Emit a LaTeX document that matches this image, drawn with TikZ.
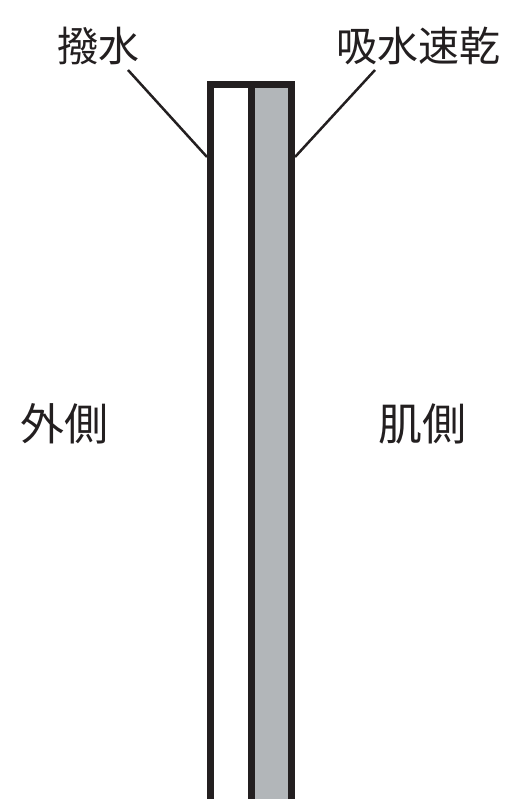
\documentclass[tikz,border=0pt]{standalone}
\usepackage{fontspec}
\newfontfamily\cjk{Noto Sans CJK JP}
\definecolor{ink}{RGB}{35,31,32}
\definecolor{layergray}{RGB}{178,182,185}
\begin{document}
\begin{tikzpicture}[x=1pt,y=-1pt,
  lbl/.style={font=\cjk\fontsize{41}{41}\selectfont, text=ink, inner sep=0pt},
  biglbl/.style={lbl, font=\cjk\fontsize{44}{44}\selectfont},
  wall/.style={draw=ink, line width=7pt},
  leader/.style={draw=ink, line width=2.5pt}]
\useasboundingbox (0,0) rectangle (510,799);
\clip (0,0) rectangle (510,799);
\fill[layergray] (251.5,84.5) rectangle (291.5,820);
\draw[wall] (210,820) -- (210,84.5) -- (291.5,84.5) -- (291.5,820);
\draw[wall] (251.5,84.5) -- (251.5,820);
\node[lbl] (hassui) at (98,46) {撥水};
\node[lbl] (kyusui) at (418,46) {吸水速乾};
\node[biglbl] (gaisoku) at (64,424) {外側};
\node[biglbl] (hadasoku) at (422,424) {肌側};
\coordinate (h1) at (128,70);
\coordinate (h2) at (207,157);
\coordinate (k1) at (375,70);
\coordinate (k2) at (295,157);
\draw[leader] (h1) -- (h2);
\draw[leader] (k1) -- (k2);
\end{tikzpicture}
\end{document}
